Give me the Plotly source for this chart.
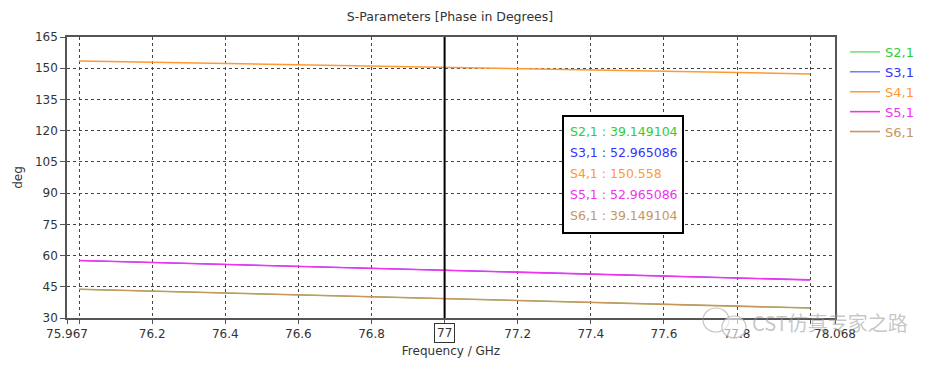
import plotly.graph_objects as go

# ---- data ----
freq = [76.0, 76.2, 76.4, 76.6, 76.8, 77.0, 77.2, 77.4, 77.6, 77.8, 78.0]
s21 = [43.8, 42.9, 42.0, 41.0, 40.1, 39.149104, 38.2, 37.3, 36.4, 35.5, 34.8]
s31 = [57.6, 56.7, 55.8, 54.8, 53.9, 52.965086, 52.0, 51.0, 50.1, 49.2, 48.3]
s41 = [153.5, 152.9, 152.3, 151.8, 151.2, 150.558, 149.9, 149.3, 148.7, 148.0, 147.2]
s51 = [57.6, 56.7, 55.8, 54.8, 53.9, 52.965086, 52.0, 51.0, 50.1, 49.2, 48.3]
s61 = [43.8, 42.9, 42.0, 41.0, 40.1, 39.149104, 38.2, 37.3, 36.4, 35.5, 34.8]

names = ["S2,1", "S3,1", "S4,1", "S5,1", "S6,1"]
series = [s21, s31, s41, s51, s61]
colors = ["#33cc33", "#3333ff", "#ff9933", "#f033f0", "#c89660"]
widths = [1.0, 1.0, 1.5, 1.6, 1.6]
marker_vals = ["39.149104", "52.965086", "150.558", "52.965086", "39.149104"]
marker_freq = 77.0

x_tickvals = [75.967, 76.2, 76.4, 76.6, 76.8, 77.0, 77.2, 77.4, 77.6, 77.8, 78.068]
x_ticktext = ["75.967", "76.2", "76.4", "76.6", "76.8", "", "77.2", "77.4", "77.6", "77.8", "78.068"]
x_grid_extra = [76.0, 78.0]
y_tickvals = [30, 45, 60, 75, 90, 105, 120, 135, 150, 165]

FONT = "DejaVu Sans"
W, H = 924, 350          # page body has an 8px margin
L, R, T, B = 59, 97, 29, 40
PW, PH = W - L - R, H - T - B

def px(xw):   # window x -> paper x
    return (xw - 8 - L) / PW

def py(yw):   # window y -> paper y
    return 1 - (yw - 8 - T) / PH

fig = go.Figure()
for n, s, c, w in zip(names, series, colors, widths):
    fig.add_trace(go.Scatter(x=freq, y=s, mode="lines",
                             name=f"<span style='color:{c}'>{n}</span>",
                             line=dict(color=c, width=w)))

fig.update_layout(
    width=W, height=H,
    margin=dict(l=L, r=R, t=T, b=B, autoexpand=False),
    paper_bgcolor="white", plot_bgcolor="white",
    font=dict(family=FONT, size=12, color="#333333"),
    title=dict(text="S-Parameters [Phase in Degrees]", x=(450 - 8) / W, xanchor="center",
               xref="container", y=1 - (17 - 8) / H, yref="container", yanchor="middle",
               font=dict(size=12.5, color="#333333")),
    showlegend=True,
    legend=dict(x=px(845), y=py(37), xanchor="left", yanchor="top",
                font=dict(size=13), itemwidth=30, tracegroupgap=0,
                bgcolor="rgba(0,0,0,0)"),
    xaxis=dict(range=[75.967, 78.068], tickvals=x_tickvals, ticktext=x_ticktext,
               automargin=False,
               showgrid=True, gridcolor="#444444", griddash="dot", gridwidth=1,
               minor=dict(tickvals=x_grid_extra, showgrid=True, gridcolor="#444444",
                          griddash="dot", ticks="outside", ticklen=4),
               showline=True, linecolor="#555555", linewidth=1.5, mirror=True,
               ticks="outside", ticklen=4, tickcolor="#555555",
               zeroline=False, tickfont=dict(size=12, color="#333333"),
               title=dict(text="Frequency / GHz", font=dict(size=12), standoff=8)),
    yaxis=dict(range=[30, 165], tickvals=y_tickvals, automargin=False,
               showgrid=True, gridcolor="#444444", griddash="dot", gridwidth=1,
               showline=True, linecolor="#555555", linewidth=1.5, mirror=True,
               ticks="outside", ticklen=5, tickcolor="#555555",
               zeroline=False, tickfont=dict(size=12, color="#333333"),
               title=dict(text="deg", font=dict(size=12), standoff=10)),
)

# marker line at 77 GHz
fig.add_shape(type="line", xref="x", yref="paper", x0=marker_freq, x1=marker_freq,
              y0=0, y1=1, line=dict(color="black", width=2))
# boxed marker tick label
fig.add_annotation(x=marker_freq, xref="x", y=0, yref="paper", yanchor="top",
                   yshift=-5, text="77", showarrow=False,
                   font=dict(size=12, color="#333333"),
                   bordercolor="#333333", borderwidth=1, borderpad=2, bgcolor="white")

# marker readout box
fig.add_shape(type="rect", xref="paper", yref="paper",
              x0=px(563), x1=px(683), y0=py(233), y1=py(116),
              line=dict(color="black", width=2), fillcolor="white", layer="above")
line_y = [131, 152, 173, 194, 215]
for n, c, v, yy in zip(names, colors, marker_vals, line_y):
    fig.add_annotation(x=px(568), y=py(yy), xref="paper", yref="paper",
                       xanchor="left", yanchor="middle", text=f"{n} : {v}",
                       showarrow=False, font=dict(size=12.5, color=c))

# watermark (logo bubbles + text)
wm = "rgba(150,150,150,0.55)"
fig.add_shape(type="circle", xref="paper", yref="paper",
              x0=px(703), x1=px(729), y0=py(332), y1=py(308),
              line=dict(color=wm, width=1.2), layer="above")
fig.add_shape(type="circle", xref="paper", yref="paper",
              x0=px(722), x1=px(746), y0=py(338), y1=py(316),
              line=dict(color=wm, width=1.2), fillcolor="rgba(255,255,255,0.6)", layer="above")
fig.add_annotation(x=px(910), y=py(322), xref="paper", yref="paper", xanchor="right",
                   yanchor="middle", text="CST仿真专家之路", showarrow=False,
                   font=dict(family="Noto Sans CJK SC", size=20, color=wm))

fig.write_html("out.html")
